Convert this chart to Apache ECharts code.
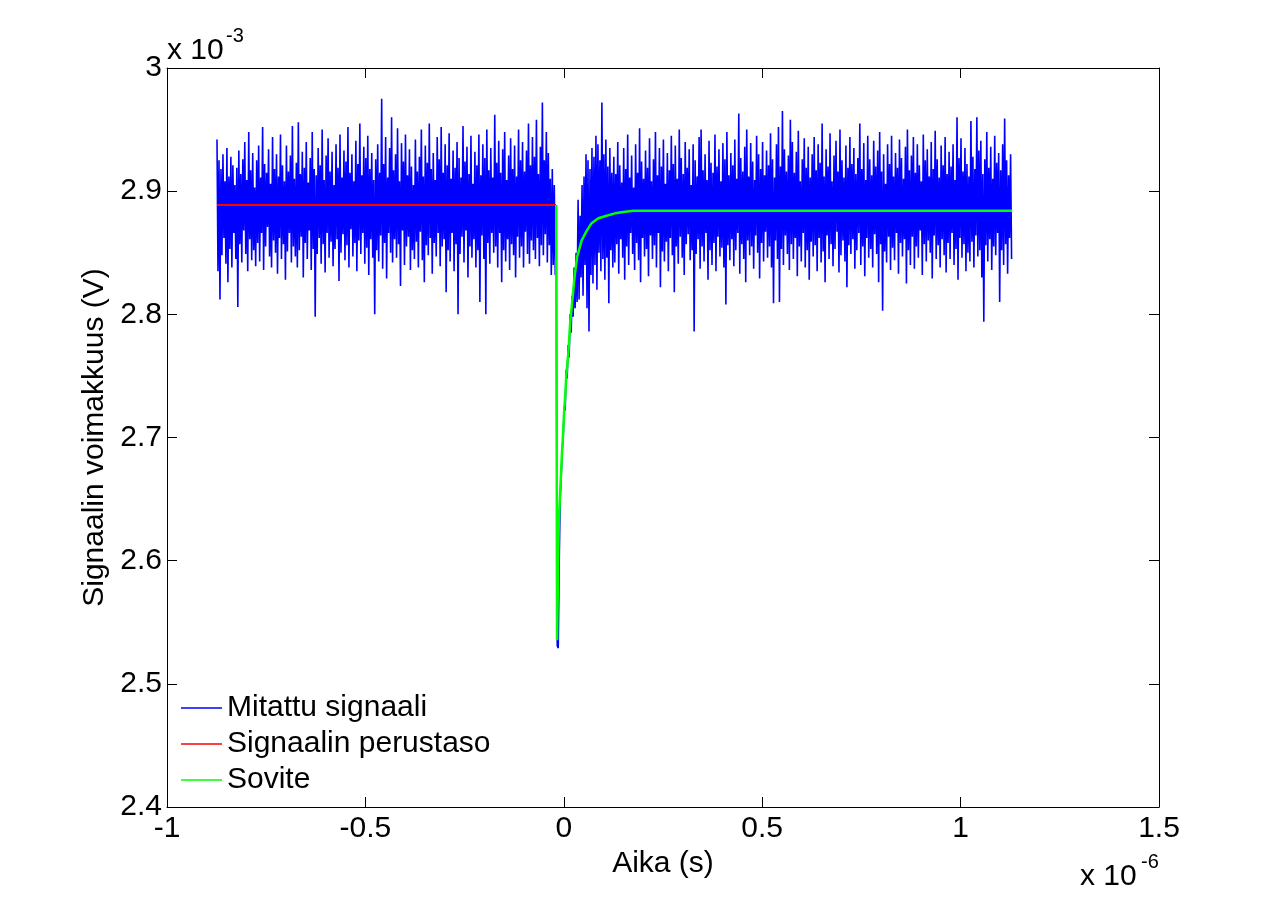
<!DOCTYPE html>
<html>
<head>
<meta charset="utf-8">
<script src="https://cdn.jsdelivr.net/npm/echarts@6/dist/echarts.min.js"></script>
<style>
  html, body { margin: 0; padding: 0; background: #fff; }
  #chart { width: 1281px; height: 908px; }
</style>
</head>
<body>
<div id="chart"></div>
<script>
// ---------- DATA (time in units of 1e-6 s, voltage in units of 1e-3 V) ----------
const seriesNames = ['Mitattu signaali', 'Signaalin perustaso', 'Sovite'];
const xTicks = [-1, -0.5, 0, 0.5, 1, 1.5];
const yTicks = [2.4, 2.5, 2.6, 2.7, 2.8, 2.9, 3];

// measured signal on a uniform sampling grid
const sampleT0 = -0.874;
const sampleDt = 0.0025;
const measured = [
  2.942, 2.835, 2.925, 2.812, 2.918, 2.848, 2.930, 2.862, 2.908, 2.841, 2.935, 2.826, 2.912, 2.853, 2.928, 2.838, 2.921, 2.866, 2.905, 2.845,
  2.919, 2.806, 2.933, 2.857, 2.914, 2.842, 2.926, 2.868, 2.940, 2.849, 2.909, 2.835, 2.948, 2.861, 2.917, 2.844, 2.931, 2.852, 2.903, 2.839,
  2.925, 2.858, 2.937, 2.843, 2.911, 2.866, 2.952, 2.836, 2.922, 2.855, 2.915, 2.871, 2.934, 2.847, 2.906, 2.838, 2.944, 2.860, 2.918, 2.850,
  2.930, 2.833, 2.912, 2.862, 2.946, 2.845, 2.921, 2.857, 2.908, 2.828, 2.937, 2.851, 2.916, 2.866, 2.929, 2.842, 2.953, 2.855, 2.910, 2.847,
  2.923, 2.838, 2.956, 2.852, 2.914, 2.863, 2.932, 2.830, 2.919, 2.858, 2.940, 2.845, 2.907, 2.868, 2.927, 2.836, 2.948, 2.853, 2.918, 2.798,
  2.913, 2.849, 2.935, 2.862, 2.921, 2.841, 2.950, 2.857, 2.909, 2.834, 2.929, 2.866, 2.943, 2.846, 2.916, 2.859, 2.932, 2.839, 2.905, 2.853,
  2.938, 2.861, 2.919, 2.827, 2.946, 2.850, 2.911, 2.865, 2.933, 2.844, 2.924, 2.856, 2.952, 2.838, 2.915, 2.869, 2.930, 2.847, 2.908, 2.858,
  2.941, 2.835, 2.922, 2.860, 2.955, 2.849, 2.913, 2.866, 2.936, 2.841, 2.927, 2.854, 2.945, 2.832, 2.918, 2.861, 2.931, 2.846, 2.909, 2.800,
  2.926, 2.852, 2.938, 2.843, 2.915, 2.864, 2.975, 2.837, 2.922, 2.858, 2.944, 2.829, 2.911, 2.866, 2.935, 2.850, 2.960, 2.842, 2.917, 2.861,
  2.930, 2.846, 2.951, 2.857, 2.908, 2.823, 2.939, 2.868, 2.924, 2.840, 2.946, 2.855, 2.913, 2.863, 2.934, 2.836, 2.920, 2.852, 2.905, 2.845,
  2.942, 2.859, 2.916, 2.838, 2.928, 2.867, 2.950, 2.844, 2.912, 2.826, 2.937, 2.856, 2.923, 2.848, 2.955, 2.862, 2.918, 2.833, 2.931, 2.858,
  2.909, 2.847, 2.944, 2.866, 2.926, 2.839, 2.952, 2.855, 2.915, 2.861, 2.938, 2.818, 2.921, 2.852, 2.947, 2.843, 2.910, 2.866, 2.933, 2.835,
  2.919, 2.857, 2.940, 2.800, 2.927, 2.849, 2.911, 2.863, 2.953, 2.842, 2.924, 2.868, 2.936, 2.830, 2.914, 2.855, 2.945, 2.846, 2.906, 2.861,
  2.932, 2.838, 2.921, 2.852, 2.946, 2.810, 2.913, 2.864, 2.938, 2.845, 2.927, 2.800, 2.950, 2.858, 2.917, 2.841, 2.935, 2.866, 2.911, 2.850,
  2.962, 2.855, 2.923, 2.838, 2.941, 2.866, 2.915, 2.826, 2.934, 2.852, 2.948, 2.843, 2.909, 2.861, 2.929, 2.836, 2.943, 2.857, 2.918, 2.848,
  2.937, 2.830, 2.912, 2.863, 2.950, 2.846, 2.925, 2.855, 2.940, 2.838, 2.916, 2.867, 2.933, 2.849, 2.955, 2.841, 2.921, 2.860, 2.944, 2.852,
  2.928, 2.845, 2.958, 2.862, 2.914, 2.839, 2.936, 2.856, 2.972, 2.848, 2.925, 2.865, 2.948, 2.842, 2.931, 2.856, 2.910, 2.832, 2.918, 2.840,
  2.905, 2.832, 2.860,
  2.531, 2.529, 2.600, 2.652, 2.668, 2.690, 2.700, 2.725, 2.722, 2.755, 2.748, 2.775, 2.765, 2.800, 2.785, 2.815, 2.798,
  2.838, 2.805, 2.850, 2.810, 2.893, 2.812, 2.880, 2.830, 2.905, 2.815, 2.912, 2.840, 2.930, 2.805, 2.925, 2.786, 2.918, 2.832,
  2.935, 2.825, 2.928, 2.840, 2.945, 2.820, 2.938, 2.850, 2.925, 2.835, 2.972, 2.845, 2.930, 2.828, 2.942, 2.846, 2.920, 2.809,
  2.935, 2.852, 2.915, 2.838,
  2.928, 2.842, 2.914, 2.857, 2.940, 2.833, 2.921, 2.861, 2.907, 2.846, 2.935, 2.828, 2.918, 2.855, 2.946, 2.840, 2.911, 2.866, 2.929, 2.849,
  2.903, 2.836, 2.938, 2.858, 2.915, 2.844, 2.951, 2.826, 2.924, 2.862, 2.910, 2.847, 2.933, 2.853, 2.919, 2.831, 2.943, 2.864, 2.908, 2.845,
  2.926, 2.856, 2.948, 2.838, 2.913, 2.866, 2.935, 2.822, 2.920, 2.851, 2.942, 2.843, 2.906, 2.859, 2.931, 2.835, 2.917, 2.862, 2.945, 2.848,
  2.922, 2.818, 2.937, 2.855, 2.910, 2.841, 2.950, 2.863, 2.927, 2.846, 2.914, 2.832, 2.940, 2.857, 2.919, 2.865, 2.934, 2.844, 2.905, 2.852,
  2.938, 2.786, 2.925, 2.849, 2.912, 2.861, 2.944, 2.837, 2.950, 2.855, 2.917, 2.843, 2.930, 2.866, 2.909, 2.828, 2.941, 2.852, 2.923, 2.840,
  2.915, 2.858, 2.946, 2.835, 2.920, 2.863, 2.934, 2.847, 2.908, 2.854, 2.939, 2.838, 2.926, 2.808, 2.948, 2.856, 2.913, 2.844, 2.931, 2.861,
  2.921, 2.839, 2.942, 2.852, 2.910, 2.866, 2.963, 2.833, 2.927, 2.857, 2.916, 2.845, 2.936, 2.826, 2.950, 2.860, 2.912, 2.848, 2.939, 2.855,
  2.924, 2.837, 2.909, 2.864, 2.945, 2.850, 2.930, 2.829, 2.918, 2.858, 2.940, 2.843, 2.913, 2.867, 2.933, 2.846, 2.921, 2.855, 2.947, 2.838,
  2.926, 2.809, 2.911, 2.860, 2.938, 2.845, 2.952, 2.810, 2.920, 2.853, 2.965, 2.840, 2.934, 2.864, 2.916, 2.849, 2.929, 2.836, 2.958, 2.857,
  2.940, 2.845, 2.915, 2.862, 2.932, 2.831, 2.949, 2.855, 2.908, 2.843, 2.926, 2.866, 2.943, 2.838, 2.919, 2.852, 2.936, 2.828, 2.911, 2.859,
  2.930, 2.847, 2.944, 2.856, 2.917, 2.835, 2.938, 2.862, 2.923, 2.842, 2.955, 2.851, 2.912, 2.826, 2.934, 2.864, 2.920, 2.845, 2.947, 2.857,
  2.908, 2.839, 2.929, 2.853, 2.941, 2.867, 2.916, 2.834, 2.950, 2.848, 2.925, 2.860, 2.911, 2.843, 2.937, 2.822, 2.919, 2.856, 2.944, 2.849,
  2.922, 2.861, 2.935, 2.837, 2.914, 2.852, 2.927, 2.866, 2.955, 2.840, 2.918, 2.855, 2.939, 2.831, 2.909, 2.862, 2.945, 2.846, 2.926, 2.853,
  2.913, 2.838, 2.941, 2.865, 2.920, 2.849, 2.933, 2.826, 2.948, 2.857, 2.916, 2.803, 2.930, 2.851, 2.906, 2.842, 2.938, 2.863, 2.922, 2.836,
  2.945, 2.854, 2.912, 2.844, 2.931, 2.866, 2.919, 2.833, 2.942, 2.858, 2.927, 2.847, 2.910, 2.861, 2.936, 2.825, 2.950, 2.852, 2.917, 2.840,
  2.929, 2.863, 2.944, 2.837, 2.915, 2.855, 2.938, 2.846, 2.921, 2.868, 2.908, 2.832, 2.946, 2.857, 2.925, 2.843, 2.934, 2.860, 2.912, 2.850,
  2.940, 2.829, 2.918, 2.864, 2.949, 2.845, 2.926, 2.856, 2.911, 2.838, 2.937, 2.861, 2.921, 2.848, 2.944, 2.834, 2.914, 2.858, 2.932, 2.845,
  2.920, 2.866, 2.938, 2.840, 2.909, 2.853, 2.960, 2.828, 2.927, 2.862, 2.943, 2.846, 2.916, 2.857, 2.935, 2.835, 2.922, 2.850, 2.912, 2.843,
  2.957, 2.859, 2.928, 2.838, 2.918, 2.864, 2.960, 2.847, 2.933, 2.852, 2.941, 2.830, 2.914, 2.794, 2.926, 2.856, 2.948, 2.843, 2.919, 2.861,
  2.936, 2.836, 2.910, 2.855, 2.945, 2.848, 2.923, 2.866, 2.931, 2.810, 2.917, 2.852, 2.938, 2.840, 2.959, 2.857, 2.925, 2.833, 2.913, 2.862,
  2.930, 2.845
];

// baseline (red)
const baselineT = [-0.874, -0.0197];
const baselineV = [2.8888, 2.8888];

// fit (green)
const fitT = [-0.019, -0.017, -0.0126, -0.0096, -0.007, -0.0045, -0.0013, 0.001, 0.004, 0.006,
              0.009, 0.012, 0.014, 0.016, 0.020, 0.024, 0.028, 0.034, 0.045, 0.058,
              0.070, 0.087, 0.108, 0.129, 0.150, 0.175, 1.13];
const fitV = [2.8888, 2.5355, 2.631, 2.652, 2.671, 2.688, 2.706, 2.722, 2.736, 2.749,
              2.760, 2.771, 2.782, 2.793, 2.806, 2.820, 2.833, 2.847, 2.860, 2.868,
              2.874, 2.878, 2.880, 2.882, 2.883, 2.8841, 2.8841];

// ---------- CHART ----------
const FONT = '"Liberation Sans", Arial, Helvetica, sans-serif';
const FS = 30;
const measuredData = measured.map((v, i) => [sampleT0 + i * sampleDt, v]);
const baselineData = baselineT.map((t, i) => [t, baselineV[i]]);
const fitData = fitT.map((t, i) => [t, fitV[i]]);

const fmt = v => String(Math.round(v * 10) / 10);
const axisCommon = {
  type: 'value',
  axisLine: { show: true, onZero: false, lineStyle: { color: '#000', width: 1 } },
  axisTick: { show: true, inside: true, length: 10, lineStyle: { color: '#000', width: 1 } },
  splitLine: { show: false },
};

const chart = echarts.init(document.getElementById('chart'), null, { renderer: 'canvas' });
chart.setOption({
  animation: false,
  backgroundColor: '#fff',
  grid: { left: 167, right: 122, top: 68, bottom: 101, show: false },
  xAxis: [
    Object.assign({}, axisCommon, {
      position: 'bottom', min: xTicks[0], max: xTicks[xTicks.length - 1], interval: 0.5,
      axisLabel: { show: true, color: '#000', fontSize: FS, fontFamily: FONT, margin: 7, formatter: fmt },
      name: 'Aika (s)', nameLocation: 'middle', nameGap: 41,
      nameTextStyle: { color: '#000', fontSize: FS, fontFamily: FONT }
    }),
    Object.assign({}, axisCommon, {
      position: 'top', min: xTicks[0], max: xTicks[xTicks.length - 1], interval: 0.5,
      axisLabel: { show: false }
    })
  ],
  yAxis: [
    Object.assign({}, axisCommon, {
      position: 'left', min: yTicks[0], max: yTicks[yTicks.length - 1], interval: 0.1,
      axisLabel: { show: true, color: '#000', fontSize: FS, fontFamily: FONT, margin: 5, formatter: fmt },
      name: 'Signaalin voimakkuus (V)', nameLocation: 'middle', nameGap: 52,
      nameTextStyle: { color: '#000', fontSize: FS, fontFamily: FONT }
    }),
    Object.assign({}, axisCommon, {
      position: 'right', min: yTicks[0], max: yTicks[yTicks.length - 1], interval: 0.1,
      axisLabel: { show: false }
    })
  ],
  legend: {
    show: true, orient: 'vertical', left: 181, top: 693, padding: 0,
    data: seriesNames,
    icon: 'rect',
    itemWidth: 41, itemHeight: 1.5, itemGap: 6,
    textStyle: { color: '#000', fontSize: FS, fontFamily: FONT },
    selectedMode: false
  },
  series: [
    { name: seriesNames[0], type: 'line', data: measuredData, symbol: 'none', showSymbol: false,
      lineStyle: { color: '#0000ff', width: 1.6 }, itemStyle: { color: '#0000ff' }, silent: true, z: 2 },
    { name: seriesNames[1], type: 'line', data: baselineData, symbol: 'none', showSymbol: false,
      lineStyle: { color: '#ff0000', width: 2 }, itemStyle: { color: '#ff0000' }, silent: true, z: 3 },
    { name: seriesNames[2], type: 'line', data: fitData, symbol: 'none', showSymbol: false,
      lineStyle: { color: '#00ff00', width: 2.5 }, itemStyle: { color: '#00ff00' }, silent: true, z: 4 }
  ],
  graphic: [
    { type: 'text', x: 167, y: 51, style: { text: 'x 10', fontSize: FS, fontFamily: FONT, fill: '#000', verticalAlign: 'middle' } },
    { type: 'text', x: 226, y: 36, style: { text: '-3', fontSize: 20, fontFamily: FONT, fill: '#000', verticalAlign: 'middle' } },
    { type: 'text', x: 1080, y: 877, style: { text: 'x 10', fontSize: FS, fontFamily: FONT, fill: '#000', verticalAlign: 'middle' } },
    { type: 'text', x: 1141, y: 862, style: { text: '-6', fontSize: 20, fontFamily: FONT, fill: '#000', verticalAlign: 'middle' } }
  ]
});
</script>
</body>
</html>
